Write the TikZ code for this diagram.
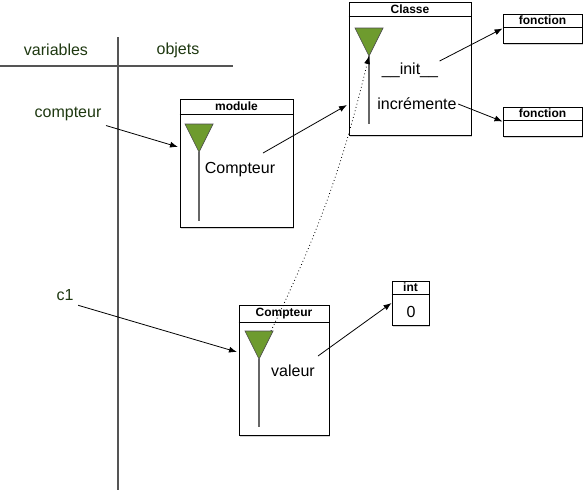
\documentclass[tikz,border=0pt]{standalone}
\usepackage{fontspec}
\setmainfont{Liberation Sans}
\usepackage{tikz}
\usetikzlibrary{arrows.meta,positioning,fit,shadows,calc}
\definecolor{vargreen}{HTML}{1E3810}
\definecolor{refgreen}{HTML}{6E9B2E}
\definecolor{axisgray}{HTML}{555555}

\tikzset{
  objbox/.style={draw, line width=0.7pt, fill=white, inner sep=0pt,
    drop shadow={shadow xshift=1pt, shadow yshift=-1.2pt, opacity=0.35}},
  headtxt/.style={font=\fontsize{9}{10}\selectfont\bfseries, inner sep=0pt},
  vartxt/.style={font=\fontsize{12}{14}\selectfont, text=vargreen},
  attrtxt/.style={font=\fontsize{12}{14}\selectfont, inner sep=1pt},
  reftri/.style={draw=black!70, line width=0.5pt, fill=refgreen},
  refstick/.style={draw=black!60, line width=1.1pt},
  link/.style={->, line width=0.6pt}
}

\begin{document}
\begin{tikzpicture}[x=0.75pt, y=-0.75pt, >={Latex[length=6pt,width=4.5pt]}]
  \useasboundingbox (0,0) rectangle (587,490);

  % columns
  \draw[axisgray, line width=1pt] (118,37) -- (118,490);
  \draw[axisgray, line width=1pt] (0,66) -- (233,66);
  \node[vartxt] (varhead) at (56,50) {variables};
  \node[vartxt] (objhead) at (178,50) {objets};

  % variables
  \node[vartxt] (compteur) at (68,114) {compteur};
  \node[vartxt] (c1) at (65,295) {c1};

  % module object
  \node[objbox, fit={(180,99) (293,227)}] (module) {};
  \draw ([yshift=-12pt]module.north west) -- ([yshift=-12pt]module.north east);
  \node[headtxt] (moduletitle) at ([yshift=-6pt]module.north) {module};
  \draw[reftri] (185,124) -- (213,124) -- (199,152) coordinate (moduleref) -- cycle;
  \draw[refstick] (moduleref) -- (199,221);
  \node[attrtxt] (modcompteur) at (240,170) {Compteur};
  \coordinate (modin) at (178,147);
  \coordinate (modout) at (263,153);

  % class object
  \node[objbox, fit={(349,2) (471,135)}] (classe) {};
  \draw ([yshift=-11pt]classe.north west) -- ([yshift=-11pt]classe.north east);
  \node[headtxt] (classetitle) at ([yshift=-5.5pt]classe.north) {Classe};
  \draw[reftri] (355,28) -- (383,28) -- (369,56) coordinate (classeref) -- cycle;
  \draw[refstick] (classeref) -- (369,124);
  \node[attrtxt] (init) at (410,70) {\_\_init\_\_};
  \node[attrtxt] (incr) at (417,104) {incrémente};
  \coordinate (classein) at (347,105);

  % functions
  \node[objbox, fit={(503,14) (582,43)}] (fonc1) {};
  \draw ([yshift=-10.5pt]fonc1.north west) -- ([yshift=-10.5pt]fonc1.north east);
  \node[headtxt] (fonc1title) at ([yshift=-5.25pt]fonc1.north) {fonction};
  \node[objbox, fit={(503,107) (582,136)}] (fonc2) {};
  \draw ([yshift=-10.5pt]fonc2.north west) -- ([yshift=-10.5pt]fonc2.north east);
  \node[headtxt] (fonc2title) at ([yshift=-5.25pt]fonc2.north) {fonction};

  % instance
  \node[objbox, fit={(239,305) (329,435)}] (inst) {};
  \draw ([yshift=-13pt]inst.north west) -- ([yshift=-13pt]inst.north east);
  \node[headtxt] (insttitle) at ([yshift=-6.5pt]inst.north) {Compteur};
  \draw[reftri] (245,331) -- (273,331) -- (259,359) coordinate (instref) -- cycle;
  \draw[refstick] (instref) -- (259,427);
  \coordinate (instclass) at (271,331);
  \node[attrtxt] (valeur) at (293,371) {valeur};
  \coordinate (instin) at (237,352);
  \coordinate (valout) at (318,356);

  % int object
  \node[objbox, fit={(392,281) (429,325)}] (intobj) {};
  \draw ([yshift=-10pt]intobj.north west) -- ([yshift=-10pt]intobj.north east);
  \node[headtxt] (inttitle) at ([yshift=-5pt]intobj.north) {int};
  \node[attrtxt] (zero) at (411,312) {0};

  % links
  \draw[link] (compteur.south east) -- (modin);
  \draw[link] (c1.south east) -- (instin);
  \draw[link] (modout) -- (classein);
  \draw[link] (init.north east) -- (fonc1.west);
  \draw[link] (incr.east) -- (fonc2.west);
  \draw[link] (valout) -- (intobj.west);
  \draw[->, dotted, line width=0.6pt] (instclass) to[bend right=6] (classeref);
\end{tikzpicture}
\end{document}
